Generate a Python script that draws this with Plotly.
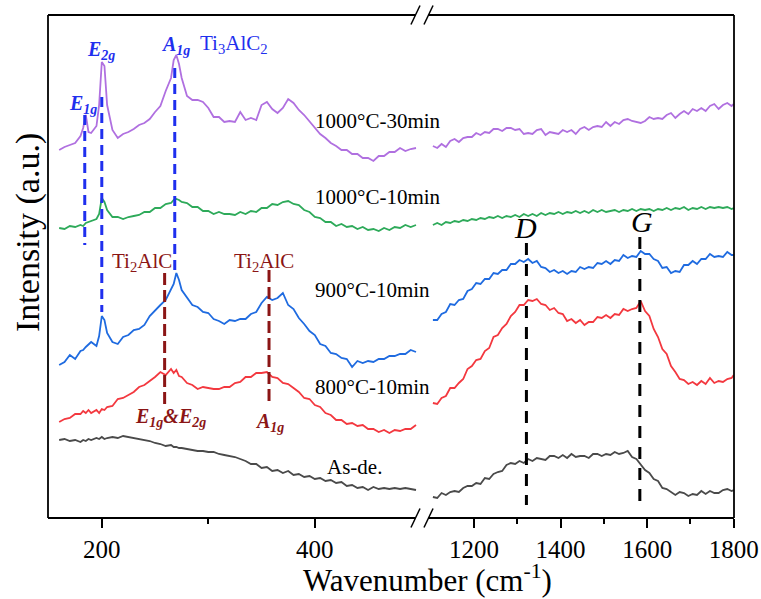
import plotly.graph_objects as go

# ---------------- data ----------------
# Raman shift sampling grid of the low-wavenumber window (cm-1)
WN_LEFT = [160, 165, 170, 175, 180, 182.5, 185, 187.5, 190, 195,
           197.5, 200, 202.5, 205, 210, 215, 220, 225, 230, 235,
           240, 245, 250, 255, 260, 265, 267.5, 270, 272.5, 275,
           280, 285, 290, 295, 300, 305, 310, 315, 320, 325,
           330, 335, 340, 345, 350, 355, 360, 365, 370, 375,
           380, 385, 390, 395, 400, 405, 410, 415, 420, 425,
           430, 435, 440, 445, 450, 455, 460, 465, 470, 475,
           480, 485, 490, 495]

# Raman shift sampling grid of the D/G window (cm-1)
WN_RIGHT = [1105, 1115, 1125, 1135, 1145, 1155, 1165, 1175, 1185, 1195,
            1205, 1215, 1225, 1235, 1245, 1255, 1265, 1275, 1285, 1295,
            1305, 1315, 1325, 1335, 1345, 1355, 1365, 1375, 1385, 1395,
            1405, 1415, 1425, 1435, 1445, 1455, 1465, 1475, 1485, 1495,
            1505, 1515, 1525, 1535, 1545, 1555, 1565, 1575, 1585, 1595,
            1605, 1615, 1625, 1635, 1645, 1655, 1665, 1675, 1685, 1695,
            1705, 1715, 1725, 1735, 1745, 1755, 1765, 1775, 1785, 1795,
            1800]

# Stacked (offset) intensities, arbitrary units
AS_DE_LEFT = [78, 79, 77, 78, 76, 78, 77, 79, 78, 80,
              79, 81, 79, 80, 81, 80, 82, 81, 80, 79,
              78, 77, 75, 74, 72, 73, 71, 71, 70, 70,
              69, 68, 67, 67, 66, 66, 64, 63, 62, 61,
              59, 57, 54, 54, 50, 51, 47, 48, 45, 47,
              43, 44, 41, 42, 39, 40, 37, 38, 35, 36,
              32, 33, 30, 31, 28, 31, 29, 30, 29, 30,
              29, 30, 29, 28]
AS_DE_RIGHT = [21, 20, 25, 23, 26, 27, 26, 30, 32, 32,
               35, 34, 40, 39, 44, 46, 47, 53, 55, 54,
               57, 55, 59, 57, 60, 59, 58, 62, 62, 60,
               63, 60, 64, 61, 62, 62, 60, 64, 64, 62,
               64, 63, 66, 64, 65, 67, 61, 59, 54, 48,
               45, 39, 37, 30, 29, 26, 23, 26, 25, 22,
               24, 23, 27, 24, 27, 25, 25, 28, 29, 27,
               28]

C800_LEFT = [96, 99, 100, 104, 104, 107, 105, 108, 105, 108,
             105, 109, 108, 111, 112, 119, 120, 123, 126, 131,
             133, 137, 141, 146, 143, 149, 145, 148, 142, 141,
             135, 133, 129, 131, 130, 129, 129, 131, 131, 135,
             136, 141, 141, 145, 145, 146, 141, 140, 135, 134,
             130, 126, 120, 119, 113, 111, 105, 103, 98, 98,
             94, 95, 92, 93, 89, 89, 86, 88, 85, 88,
             87, 89, 89, 93]
C800_RIGHT = [115, 114, 120, 122, 130, 130, 135, 139, 149, 152,
              158, 159, 167, 170, 181, 183, 190, 194, 202, 206,
              213, 213, 218, 217, 219, 214, 213, 208, 210, 205,
              204, 197, 199, 195, 198, 193, 196, 196, 201, 200,
              203, 200, 204, 203, 209, 207, 209, 210, 217, 207,
              202, 189, 181, 169, 164, 152, 146, 139, 138, 134,
              136, 133, 137, 134, 140, 135, 137, 136, 139, 140,
              143]

C900_LEFT = [153, 156, 163, 159, 167, 168, 171, 174, 176, 172,
             182, 202, 198, 185, 176, 174, 181, 183, 188, 189,
             193, 202, 208, 213, 218, 229, 234, 245, 238, 228,
             221, 213, 211, 206, 205, 199, 197, 194, 198, 197,
             199, 199, 204, 206, 215, 221, 218, 220, 225, 213,
             209, 200, 194, 187, 183, 174, 172, 165, 164, 160,
             159, 151, 157, 155, 157, 156, 159, 159, 162, 162,
             164, 164, 168, 166]
C900_RIGHT = [198, 198, 204, 206, 214, 213, 218, 219, 227, 229,
              235, 234, 239, 239, 245, 244, 248, 248, 254, 254,
              258, 256, 259, 255, 257, 251, 250, 246, 248, 245,
              247, 244, 247, 246, 251, 249, 251, 250, 255, 254,
              257, 254, 258, 257, 263, 260, 262, 261, 267, 264,
              264, 259, 257, 250, 251, 245, 247, 246, 253, 253,
              257, 254, 259, 259, 264, 261, 262, 261, 266, 263,
              263]

C1000_10_LEFT = [290, 289, 292, 291, 293, 292, 295, 296, 297, 299,
                 304, 320, 316, 308, 301, 301, 299, 301, 302, 303,
                 306, 306, 310, 310, 314, 315, 318, 319, 318, 316,
                 315, 311, 311, 307, 307, 304, 306, 304, 304, 303,
                 306, 304, 307, 306, 310, 310, 314, 313, 316, 317,
                 314, 313, 308, 306, 301, 300, 296, 296, 292, 294,
                 291, 292, 289, 291, 288, 289, 287, 290, 288, 291,
                 290, 293, 291, 293]
C1000_10_RIGHT = [293, 295, 293, 296, 295, 297, 296, 298, 297, 299,
                  298, 300, 299, 301, 300, 302, 300, 302, 301, 303,
                  301, 304, 302, 304, 302, 305, 303, 305, 304, 306,
                  304, 306, 305, 307, 305, 307, 305, 308, 306, 308,
                  306, 307, 308, 306, 308, 307, 309, 307, 309, 308,
                  309, 307, 309, 308, 310, 308, 310, 309, 311, 308,
                  310, 309, 311, 309, 311, 310, 311, 310, 311, 309,
                  310]

C1000_30_LEFT = [368, 371, 373, 375, 382, 390, 403, 386, 385, 392,
                 413, 456, 452, 413, 388, 380, 384, 386, 389, 393,
                 395, 399, 406, 412, 427, 440, 458, 463, 454, 440,
                 422, 418, 418, 416, 410, 401, 401, 396, 397, 396,
                 406, 398, 400, 398, 413, 416, 409, 405, 410, 419,
                 415, 408, 403, 397, 390, 384, 380, 375, 372, 368,
                 368, 364, 364, 360, 360, 357, 362, 362, 366, 366,
                 370, 367, 369, 370]
C1000_30_RIGHT = [372, 370, 374, 371, 377, 379, 376, 380, 381, 381,
                  385, 383, 386, 385, 389, 389, 387, 390, 390, 388,
                  389, 384, 385, 384, 388, 389, 383, 386, 385, 384,
                  388, 386, 388, 384, 389, 391, 388, 391, 392, 391,
                  396, 392, 396, 394, 398, 399, 397, 396, 395, 397,
                  401, 399, 400, 399, 403, 405, 400, 404, 407, 404,
                  409, 407, 410, 407, 412, 414, 409, 413, 415, 412,
                  414]

SERIES_NAMES = ["As-de.", "800°C-10min", "900°C-10min",
                "1000°C-10min", "1000°C-30min"]

# Assigned Raman modes (cm-1)
TI3ALC2_E1G, TI3ALC2_E2G, TI3ALC2_A1G = 184, 200, 268.5
TI2ALC_E, TI2ALC_A1G = 259, 357
CARBON_D, CARBON_G = 1321, 1583

# ---------------- figure ----------------
SERIF = "'Liberation Serif', 'Times New Roman', Times, serif"
COLORS = ["#4a4a4a", "#f3383f", "#1f6be0", "#2eaa5a", "#b070e0"]
LEFT = [AS_DE_LEFT, C800_LEFT, C900_LEFT, C1000_10_LEFT, C1000_30_LEFT]
RIGHT = [AS_DE_RIGHT, C800_RIGHT, C900_RIGHT, C1000_10_RIGHT, C1000_30_RIGHT]

fig = go.Figure()
for name, col, yl, yr in zip(SERIES_NAMES, COLORS, LEFT, RIGHT):
    fig.add_trace(go.Scatter(x=WN_LEFT, y=yl, mode="lines", name=name,
                             line=dict(color=col, width=1.8),
                             xaxis="x", yaxis="y"))
    fig.add_trace(go.Scatter(x=WN_RIGHT, y=yr, mode="lines", name=name,
                             line=dict(color=col, width=1.8),
                             xaxis="x2", yaxis="y", showlegend=False))

SPLIT = 0.545
tick_font = dict(family=SERIF, size=25, color="black")
common_x = dict(ticks="outside", ticklen=9, tickwidth=1.5, tickcolor="black",
                showgrid=False, zeroline=False, showline=False,
                tickfont=tick_font, anchor="y", automargin=False)
fig.update_layout(
    width=761, height=599,
    margin=dict(l=48, r=27, t=15, b=81, autoexpand=False),
    paper_bgcolor="white", plot_bgcolor="white",
    showlegend=False,
    font=dict(family=SERIF, color="black"),
    xaxis=dict(domain=[0, SPLIT], range=[149.5, 500.5],
               tickmode="array", tickvals=[200, 400],
               minor=dict(tickmode="array", tickvals=[300], ticks="outside",
                          ticklen=5, tickwidth=1.5, tickcolor="black",
                          showgrid=False),
               **common_x),
    xaxis2=dict(domain=[SPLIT, 1], range=[1079.5, 1800.5],
                tickmode="array", tickvals=[1200, 1400, 1600, 1800],
                minor=dict(tickmode="array", tickvals=[1300, 1500, 1700],
                           ticks="outside", ticklen=5, tickwidth=1.5,
                           tickcolor="black", showgrid=False),
                **common_x),
    yaxis=dict(range=[0, 503], visible=False, fixedrange=True),
)

shapes = []
frame = dict(color="black", width=1.8)
gap_l, gap_r = 0.5364, 0.5539
# frame with the axis break
for y in (0, 1):
    shapes.append(dict(type="line", xref="paper", yref="paper",
                       x0=0, x1=gap_l, y0=y, y1=y, line=frame))
    shapes.append(dict(type="line", xref="paper", yref="paper",
                       x0=gap_r, x1=1, y0=y, y1=y, line=frame))
shapes.append(dict(type="line", xref="paper", yref="paper",
                   x0=0, x1=0, y0=0, y1=1, line=frame))
shapes.append(dict(type="line", xref="paper", yref="paper",
                   x0=1, x1=1, y0=0, y1=1, line=frame))
# break marks //
for yc in (0, 1):
    for xc in (0.5357, 0.5547):
        shapes.append(dict(type="line", xref="paper", yref="paper",
                           x0=xc - 0.0066, x1=xc + 0.0066,
                           y0=yc - 0.0189, y1=yc + 0.0189,
                           line=dict(color="black", width=1.5)))

BLUE = "#1f2fee"
DARKRED = "#8b1515"


def vline(axis, x, y0, y1, color, dash):
    shapes.append(dict(type="line", xref=axis, yref="y", x0=x, x1=x,
                       y0=y0, y1=y1, layer="above",
                       line=dict(color=color, width=3, dash=dash)))


vline("x", TI3ALC2_E1G, 403, 273, BLUE, "10px,6px")
vline("x", TI3ALC2_E2G, 421, 206, BLUE, "10px,6px")
vline("x", TI3ALC2_A1G, 450, 246, BLUE, "10px,6px")
vline("x", TI2ALC_E, 245, 111, DARKRED, "12px,5px")
vline("x", TI2ALC_A1G, 248, 113, DARKRED, "12px,5px")
vline("x2", CARBON_D, 275, 13, "black", "12px,9px")
vline("x2", CARBON_G, 281, 15, "black", "12px,9px")
fig.update_layout(shapes=shapes)

ann = []


def label(text, x, y, axis="x", color="black", size=21, xanchor="left"):
    ann.append(dict(text=text, x=x, y=y, xref=axis, yref="y",
                    xanchor=xanchor, yanchor="middle", showarrow=False,
                    font=dict(family=SERIF, size=size, color=color)))


# sample labels
label(SERIES_NAMES[4], 398, 397)
label(SERIES_NAMES[3], 398, 321)
label(SERIES_NAMES[2], 398, 228)
label(SERIES_NAMES[1], 398, 131)
label(SERIES_NAMES[0], 409.5, 51)

# Ti3AlC2 modes
label("<b><i>E<sub>1g</sub></i></b>", 182.3, 414, color=BLUE, size=20, xanchor="center")
label("<b><i>E<sub>2g</sub></i></b>", 198.8, 468, color=BLUE, size=20, xanchor="center")
label("<b><i>A<sub>1g</sub></i></b>", 269.6, 473, color=BLUE, size=20, xanchor="center")
label("Ti<sub>3</sub>AlC<sub>2</sub>", 290, 474, color=BLUE, size=21)

# Ti2AlC modes
label("Ti<sub>2</sub>AlC", 238.2, 256, color=DARKRED, size=21, xanchor="center")
label("Ti<sub>2</sub>AlC", 352.2, 256, color=DARKRED, size=21, xanchor="center")
label("<b><i>E<sub>1g</sub>&amp;E<sub>2g</sub></i></b>", 264.9, 101,
      color=DARKRED, size=20, xanchor="center")
label("<b><i>A<sub>1g</sub></i></b>", 357.8, 96, color=DARKRED, size=20,
      xanchor="center")

# carbon bands
label("<i>D</i>", 1319.7, 291, axis="x2", size=30, xanchor="center")
label("<i>G</i>", 1587.6, 297, axis="x2", size=30, xanchor="center")

# axis titles
ann.append(dict(text="Wavenumber (cm<sup>-1</sup>)", x=0.5525, y=-0.1193,
                xref="paper", yref="paper", xanchor="center", yanchor="middle",
                showarrow=False, font=dict(family=SERIF, size=31, color="black")))
ann.append(dict(text="Intensity (a.u.)", x=-0.0292, y=0.5686, textangle=-90,
                xref="paper", yref="paper", xanchor="center", yanchor="middle",
                showarrow=False, font=dict(family=SERIF, size=34, color="black")))
fig.update_layout(annotations=ann)

fig.write_html("out.html")
